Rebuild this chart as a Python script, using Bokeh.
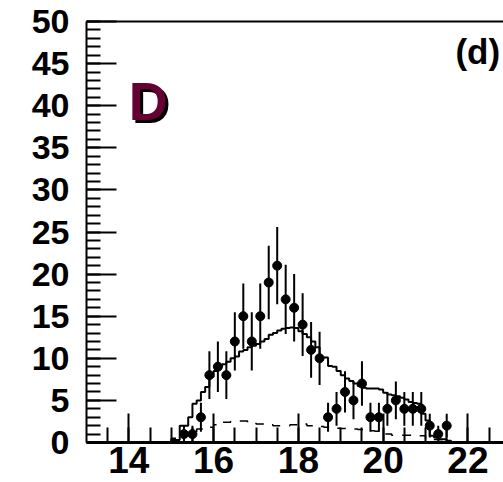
import numpy as np
from bokeh.plotting import figure
from bokeh.models import Range1d, FixedTicker, LinearAxis, Label
from bokeh.embed import file_html
from bokeh.resources import INLINE

# Measured counts: bin centres (0.2 wide), entries and statistical errors
data_x = [15.3, 15.5, 15.7, 15.9, 16.1, 16.3, 16.5, 16.7, 16.9, 17.1, 17.3,
          17.5, 17.7, 17.9, 18.1, 18.3, 18.5, 18.7, 18.9, 19.1, 19.3, 19.5,
          19.7, 19.9, 20.1, 20.3, 20.5, 20.7, 20.9, 21.1, 21.3, 21.5]
data_n = [1, 1, 3, 8, 9, 8, 12, 15, 12, 15, 19,
          21, 17, 16, 14, 11, 10, 3, 4, 6, 5, 7,
          3, 3, 4, 5, 4, 4, 4, 2, 1, 2]
data_err = [1.0, 1.0, 1.73, 2.83, 3.0, 2.83, 3.46, 3.87, 3.46, 3.87, 4.36,
            4.58, 4.12, 4.0, 3.74, 3.32, 3.16, 1.73, 2.0, 2.45, 2.24, 2.65,
            1.73, 1.73, 2.0, 2.24, 2.0, 2.0, 2.0, 1.41, 1.0, 1.41]

# Total expectation, 0.1 wide bins starting at 15.0
mc_low = 15.0
mc_width = 0.1
mc_total = [0.3, 0.3, 2.0, 2.0, 3.0, 4.6, 5.0, 6.0, 6.6, 7.8,
            8.5, 9.0, 9.3, 9.6, 10.0, 10.2, 10.8, 11.0, 11.3, 11.5,
            11.7, 12.0, 12.3, 12.8, 13.0, 13.3, 13.5, 13.6, 13.65, 13.6,
            13.2, 12.9, 12.5, 12.0, 11.3, 10.1, 10.1, 9.1, 9.0, 8.5,
            8.0, 7.6, 7.3, 7.0, 6.7, 6.5, 6.4, 6.4, 6.4, 6.3,
            5.9, 5.7, 5.6, 5.5, 5.3, 5.1, 4.8, 4.7, 4.6, 3.4,
            2.6, 0.8, 0.6, 0.4, 0.4, 0.2]

# Background component, 0.2 wide bins starting at 15.0
bg_low = 15.0
bg_width = 0.2
bg_counts = [0.5, 0.8, 1.2, 1.6, 1.8, 2.1, 2.4, 2.5, 2.55, 2.4, 2.2,
             2.1, 2.0, 2.0, 2.1, 2.2, 2.0, 1.9, 1.8, 1.7, 1.65, 1.6,
             1.55, 1.4, 1.35, 1.0, 0.85, 0.85, 0.85, 0.8, 0.4, 0.35, 0.3]

x_major = [14, 16, 18, 20, 22]
y_major = [0, 5, 10, 15, 20, 25, 30, 35, 40, 45, 50]

FONT = "Liberation Sans"


def step_outline(low, width, counts):
    edges = [low + i * width for i in range(len(counts) + 1)]
    xs = [edges[0]] + edges
    ys = [0.0] + list(counts) + [0.0]
    return xs, ys


p = figure(width=503, height=482, output_backend="svg", toolbar_location=None,
           x_range=Range1d(13.0, 22.84), y_range=Range1d(0, 50),
           min_border_left=86, min_border_right=0, min_border_top=21,
           min_border_bottom=40)
p.outline_line_color = None
p.xgrid.visible = False
p.ygrid.visible = False
p.background_fill_color = "white"
p.border_fill_color = "white"

# Axes: ticks drawn inward, ROOT style
xa = p.xaxis[0]
xa.ticker = FixedTicker(ticks=x_major,
                        minor_ticks=[13.5 + 0.5 * i for i in range(19)])
xa.major_tick_in = 29
xa.major_tick_out = 0
xa.minor_tick_in = 15
xa.minor_tick_out = 0
xa.axis_line_width = 3
xa.major_tick_line_width = 2
xa.minor_tick_line_width = 2
xa.major_label_text_font = FONT
xa.major_label_text_font_style = "bold"
xa.major_label_text_font_size = "37px"
xa.major_label_text_color = "black"
xa.major_label_standoff = 4

ya = p.yaxis[0]
ya.ticker = FixedTicker(ticks=y_major, minor_ticks=list(range(0, 51)))
ya.major_tick_in = 30
ya.major_tick_out = 0
ya.minor_tick_in = 14
ya.minor_tick_out = 0
ya.axis_line_width = 2
ya.major_tick_line_width = 2
ya.minor_tick_line_width = 2
ya.major_label_text_font = FONT
ya.major_label_text_font_style = "bold"
ya.major_label_text_font_size = "34px"
ya.major_label_text_color = "black"
ya.major_label_standoff = 17

top = LinearAxis(ticker=FixedTicker(ticks=[]), major_tick_in=0, major_tick_out=0,
                 minor_tick_in=0, minor_tick_out=0,
                 major_label_text_font_size="0px", axis_line_width=2)
p.add_layout(top, "above")

# Histograms
mx, my = step_outline(mc_low, mc_width, mc_total)
p.step(mx, my, mode="after", line_color="black", line_width=2)
bx, by = step_outline(bg_low, bg_width, bg_counts)
p.step(bx, by, mode="after", line_color="black", line_width=1.5,
       line_dash="9 9")

# Data with error bars
lo = [max(n - e, 0) for n, e in zip(data_n, data_err)]
hi = [n + e for n, e in zip(data_n, data_err)]
p.segment(x0=data_x, y0=lo, x1=data_x, y1=hi, line_color="black", line_width=2)
p.scatter(data_x, data_n, size=9, color="black")

# Panel labels
p.add_layout(Label(x=22.76, y=46.4, text="(d)", text_font=FONT,
                   text_font_style="bold", text_font_size="35px",
                   text_align="right", text_baseline="middle",
                   text_color="black"))
p.add_layout(Label(x=14.46, y=40.5, x_offset=3, y_offset=-3, text="D",
                   text_font=FONT, text_font_style="bold",
                   text_font_size="54px", text_align="center",
                   text_baseline="middle", text_color="black"))
p.add_layout(Label(x=14.46, y=40.5, text="D",
                   text_font=FONT, text_font_style="bold",
                   text_font_size="54px", text_align="center",
                   text_baseline="middle", text_color="#660033"))

open("out.html", "w").write(file_html(p, INLINE))
